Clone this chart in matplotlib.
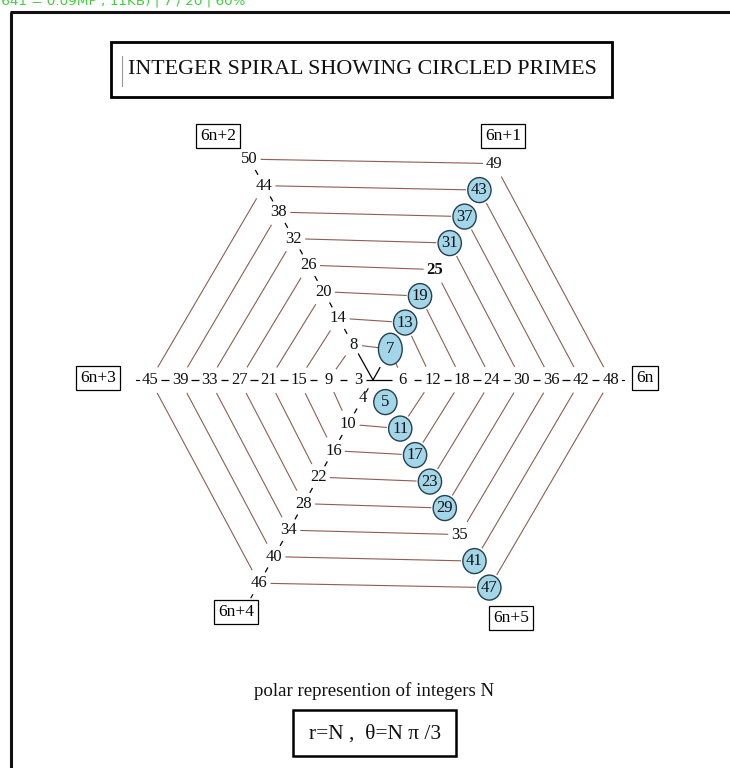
import numpy as np
import matplotlib
matplotlib.use('Agg')
import matplotlib.pyplot as plt
from matplotlib.patches import Ellipse, Rectangle

# ---------------- data ----------------
N_values = list(range(3, 51))                      # labelled integers
circled_primes = [5, 7, 11, 13, 17, 19, 23, 29, 31, 37, 41, 43, 47]
bold_numbers = [25]
residue_labels = ['6n', '6n+1', '6n+2', '6n+3', '6n+4', '6n+5']
title_text = 'INTEGER SPIRAL SHOWING CIRCLED PRIMES'
subtitle_text = 'polar represention of integers N'
formula_text = 'r=N ,  θ=N π /3'
header_text = '(641 = 0.09MP ; 11KB) | 7 / 20 | 60%'

# ---------------- layout ----------------
W, H = 730, 768
CX, CY = 373.0, 380.0          # centre pixel
SX, SY = 4.95, 5.1             # pixels per unit

def P(px, py):
    return ((px - CX) / SX, (CY - py) / SY)

def pos(n):
    th = n * np.pi / 3
    return np.array([n * np.cos(th), n * np.sin(th)])

plt.rcParams['font.family'] = ['Liberation Serif', 'DejaVu Serif']
fig = plt.figure(figsize=(W / 100, H / 100), dpi=100)
ax = fig.add_axes([0, 0, 1, 1])
ax.set_xlim(-CX / SX, (W - CX) / SX)
ax.set_ylim((CY - H) / SY, CY / SY)
ax.set_aspect('auto')
ax.axis('off')

BROWN = '#8e5e52'
BLUE = '#a3d6e8'

def shrink_for(n, d):
    horiz = abs(d[1]) < 0.3
    s = 2.3 if horiz else 2.9
    if n in circled_primes:
        s = max(s, 2.7)
    if n < 10:
        s -= 0.5 if horiz else 0.3
    return s

def seg(a, b, na, nb, color, lw, sa=None, sb=None, minlen=0.8):
    d = b - a
    L = np.hypot(*d)
    u = d / L
    if sa is None:
        sa = shrink_for(na, u)
    if sb is None:
        sb = shrink_for(nb, u)
    if L - sa - sb < minlen:
        return
    p, q = a + u * sa, b - u * sb
    ax.plot([p[0], q[0]], [p[1], q[1]], color=color, lw=lw, solid_capstyle='butt', zorder=1)

# spiral edges N -> N+1
for n in N_values[:-1]:
    seg(pos(n), pos(n + 1), n, n + 1, BROWN, 0.8)

# axis / ray dashes (black)
axis_right = [n for n in N_values if n % 6 == 0]
axis_left = [n for n in N_values if n % 6 == 3]
ray_up = [n for n in N_values if n % 6 == 2]
ray_down = [n for n in N_values if n % 6 == 4]
for grp, s in ((axis_right, 2.25), (axis_left, 2.25), (ray_up, 2.45), (ray_down, 2.45)):
    for a, b in zip(grp[:-1], grp[1:]):
        seg(pos(a), pos(b), a, b, 'black', 0.9, sa=s, sb=s, minlen=0.3)
# through the centre: 3 -> 6
seg(pos(3), pos(6), 3, 6, 'black', 0.9, sa=1.6, sb=2.1)
# centre mark: 8 -> origin -> toward 7, small tick above 4
o = np.array([0.0, 0.0])
seg(pos(8), o, 8, 0, 'black', 0.9, sa=2.0, sb=0.0)
u7 = pos(7) / np.hypot(*pos(7))
ax.plot([0, u7[0] * 2.8], [0, u7[1] * 2.8], color='black', lw=0.9, zorder=1)
u4 = pos(4) / np.hypot(*pos(4))
ax.plot([u4[0] * 2.0, u4[0] * 2.7], [u4[1] * 2.0, u4[1] * 2.7], color='black', lw=0.8, zorder=1)
# little dashes toward outer boxes
for n, dx in ((45, -1.0), (48, 1.0)):
    p = pos(n)
    ax.plot([p[0] + dx * 2.3, p[0] + dx * 2.8], [0, 0], color='black', lw=0.8)
p46 = pos(46)
u46 = p46 / np.hypot(*p46)
ax.plot([p46[0] + u46[0] * 2.6, p46[0] + u46[0] * 3.3],
        [p46[1] + u46[1] * 2.6, p46[1] + u46[1] * 3.3], color='black', lw=0.8)

# circles and numbers
for n in N_values:
    x, y = pos(n)
    if n in circled_primes:
        w, h = (4.8, 6.2) if n == 7 else (4.7, 4.9)
        ax.add_patch(Ellipse((x, y), w, h, fc=BLUE, ec='#26404d', lw=1.0, zorder=2))
    ax.text(x, y, str(n), ha='center', va='center', fontsize=12,
            fontweight='bold' if n in bold_numbers else 'normal',
            color='#111111', zorder=3)

# residue class boxes
box_px = {'6n': (645, 378), '6n+1': (503, 136), '6n+2': (218, 136),
          '6n+3': (98, 378), '6n+4': (236, 612), '6n+5': (511, 618)}
for lab in residue_labels:
    x, y = P(*box_px[lab])
    ax.text(x, y, lab, ha='center', va='center', fontsize=12.5, zorder=4,
            bbox=dict(boxstyle='square,pad=0.25', fc='white', ec='black', lw=0.9))

# title box
x0, y0 = P(111, 97)
x1, y1 = P(612, 42)
ax.add_patch(Rectangle((x0, y0), x1 - x0, y1 - y0, fill=False, ec='black', lw=2.0))
ax.plot([P(122, 0)[0]] * 2, [P(0, 56)[1], P(0, 86)[1]], color='#999999', lw=0.8)
tx, ty = P(362, 70)
ax.text(tx, ty, title_text, ha='center', va='center', fontsize=15.8, color='#111111')

# subtitle and formula
sx, sy = P(374, 691)
ax.text(sx, sy, subtitle_text, ha='center', va='center', fontsize=13.6, color='#111111')
x0, y0 = P(293, 756)
x1, y1 = P(456, 710)
ax.add_patch(Rectangle((x0, y0), x1 - x0, y1 - y0, fill=False, ec='black', lw=1.8))
fx, fy = P(375, 734)
ax.text(fx, fy, formula_text, ha='center', va='center', fontsize=15.5, color='#111111')

# outer frame
ax.plot([P(11, 0)[0]] * 2, [P(0, 12)[1], P(0, 770)[1]], color='#111111', lw=2.2,
        solid_capstyle='butt')
ax.plot([P(10, 0)[0], P(732, 0)[0]], [P(0, 12)[1]] * 2, color='#111111', lw=2.2,
        solid_capstyle='butt')

# screenshot header (cut off at the top, as in the reference)
hx, hy = P(-4, 1)
ax.text(hx, hy, header_text, ha='left', va='center', fontsize=9.7,
        color='#3fcf3f', family=['DejaVu Sans'])

fig.savefig('out.png', dpi=100)
